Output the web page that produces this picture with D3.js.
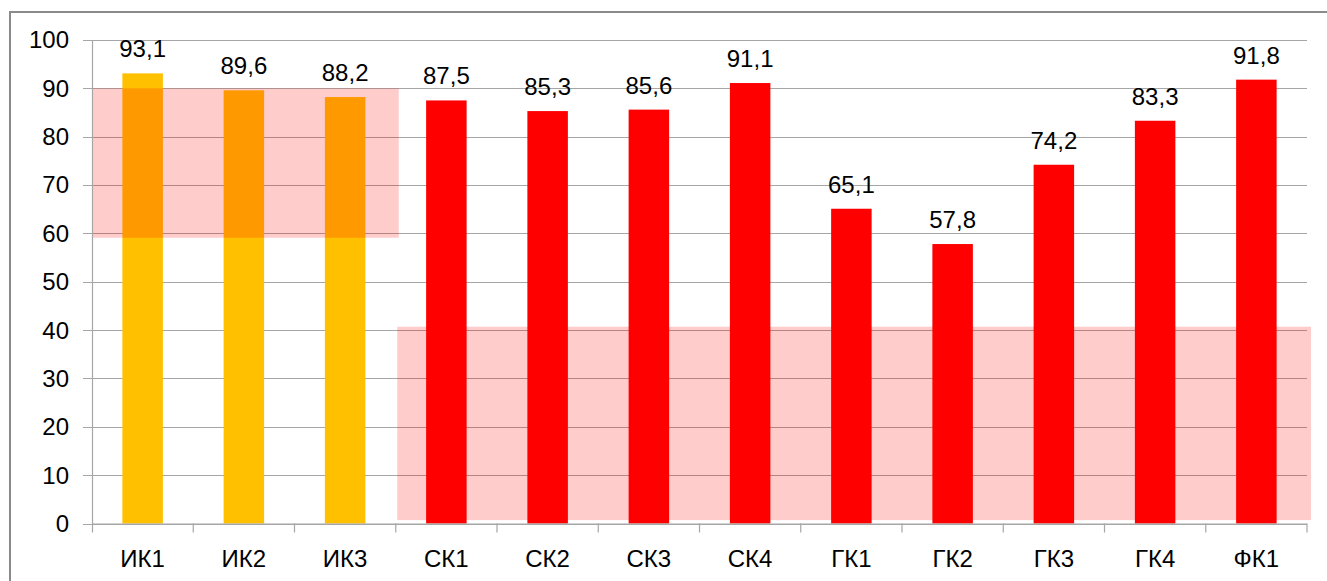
<!DOCTYPE html>
<html>
<head>
<meta charset="utf-8">
<script src="https://cdn.jsdelivr.net/npm/d3@7"></script>
<style>
  body { margin: 0; background: #fff; }
  svg { display: block; font-family: "Liberation Sans", Arial, sans-serif; }
</style>
</head>
<body>
<div id="chart"></div>
<script>
// Data
const categories = ["ИК1", "ИК2", "ИК3", "СК1", "СК2", "СК3", "СК4", "ГК1", "ГК2", "ГК3", "ГК4", "ФК1"];
const values = [93.1, 89.6, 88.2, 87.5, 85.3, 85.6, 91.1, 65.1, 57.8, 74.2, 83.3, 91.8];
const barColors = ["#FFC000", "#FFC000", "#FFC000", "#FF0000", "#FF0000", "#FF0000", "#FF0000",
                   "#FF0000", "#FF0000", "#FF0000", "#FF0000", "#FF0000"];
const yTicks = [0, 10, 20, 30, 40, 50, 60, 70, 80, 90, 100];
// highlighted zones: [first band, last band, low value, high value]
const zones = [
  [0, 2, 59.1, 90],
  [3, 11, 0.7, 40.7]
];

function createChart() {
  const W = 1327, H = 581;
  const margin = { top: 40, right: 20, bottom: 57.5, left: 92 };
  const width = 1307 - margin.left;
  const height = 523.5 - margin.top;
  const fontSize = 24;

  const root = d3.select("#chart").append("svg")
    .attr("width", W)
    .attr("height", H);

  // outer frame
  root.append("rect")
    .attr("x", 10).attr("y", 12)
    .attr("width", W).attr("height", H)
    .attr("fill", "none")
    .attr("stroke", "#8a8a8a")
    .attr("stroke-width", 2);

  const svg = root.append("g")
    .attr("transform", `translate(${margin.left},${margin.top})`);

  const x = d3.scaleBand()
    .domain(categories)
    .range([0, width])
    .paddingInner(0.6)
    .paddingOuter(0.3);

  const xb = d3.scaleBand().domain(categories).range([0, width]);

  const y = d3.scaleLinear()
    .domain([0, 100])
    .range([height, 0]);

  // gridlines
  svg.append("g")
    .selectAll("line")
    .data(yTicks)
    .enter().append("line")
    .attr("x1", -9)
    .attr("x2", width)
    .attr("y1", d => Math.round(y(d)) + 0.5)
    .attr("y2", d => Math.round(y(d)) + 0.5)
    .attr("stroke", "#a6a6a6")
    .attr("stroke-width", 1.2);

  // y tick labels
  svg.append("g")
    .selectAll("text")
    .data(yTicks)
    .enter().append("text")
    .attr("x", -23)
    .attr("y", d => y(d))
    .attr("dy", "0.35em")
    .attr("text-anchor", "end")
    .attr("font-size", fontSize)
    .attr("fill", "#000")
    .text(d => d);

  // bars
  svg.append("g")
    .selectAll("rect")
    .data(values)
    .enter().append("rect")
    .attr("x", (d, i) => x(categories[i]))
    .attr("y", d => y(d))
    .attr("width", x.bandwidth())
    .attr("height", d => height - y(d))
    .attr("fill", (d, i) => barColors[i]);

  // highlight zones
  const zoneX0 = d => d[0] === 0 ? 0 : xb(categories[d[0]]) + 1.5;
  const zoneX1 = d => d[1] === categories.length - 1 ? width + 4 : xb(categories[d[1]]) + xb.bandwidth() + 3;
  svg.append("g")
    .selectAll("rect")
    .data(zones)
    .enter().append("rect")
    .attr("x", zoneX0)
    .attr("y", d => y(d[3]))
    .attr("width", d => zoneX1(d) - zoneX0(d))
    .attr("height", d => y(d[2]) - y(d[3]))
    .attr("fill", "#FF0000")
    .attr("opacity", 0.2);

  // axes lines
  svg.append("line")
    .attr("x1", 0.5).attr("x2", 0.5)
    .attr("y1", 0).attr("y2", height + 9)
    .attr("stroke", "#a6a6a6").attr("stroke-width", 1.2);

  svg.append("line")
    .attr("x1", 0).attr("x2", width)
    .attr("y1", height + 0.5).attr("y2", height + 0.5)
    .attr("stroke", "#a6a6a6").attr("stroke-width", 1.2);

  // category ticks
  svg.append("g")
    .selectAll("line")
    .data(categories.map(c => xb(c) + xb.bandwidth()))
    .enter().append("line")
    .attr("x1", d => d).attr("x2", d => d)
    .attr("y1", height).attr("y2", height + 9)
    .attr("stroke", "#a6a6a6").attr("stroke-width", 1.2);

  // category labels
  svg.append("g")
    .selectAll("text")
    .data(categories)
    .enter().append("text")
    .attr("x", d => xb(d) + xb.bandwidth() / 2)
    .attr("y", height + 43)
    .attr("text-anchor", "middle")
    .attr("font-size", fontSize)
    .attr("fill", "#000")
    .text(d => d);

  // value labels
  svg.append("g")
    .selectAll("text")
    .data(values)
    .enter().append("text")
    .attr("x", (d, i) => xb(categories[i]) + xb.bandwidth() / 2)
    .attr("y", d => y(d) - 16)
    .attr("text-anchor", "middle")
    .attr("font-size", fontSize)
    .attr("fill", "#000")
    .text(d => d.toFixed(1).replace(".", ","));
}

document.addEventListener('DOMContentLoaded', function() {
  createChart();
});
</script>
</body>
</html>
